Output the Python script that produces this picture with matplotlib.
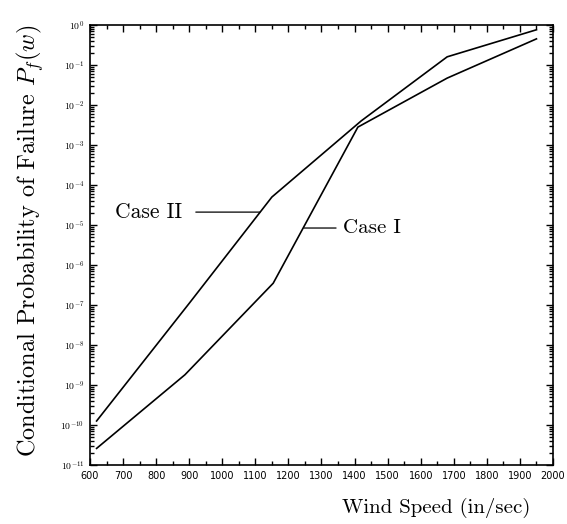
# -*- coding: utf-8 -*-
"""
Conditional probability of failure vs wind speed
"""

import matplotlib
matplotlib.use("Agg")
import matplotlib.pyplot as plt
import numpy as np
from matplotlib.ticker import LogLocator, FixedLocator, NullFormatter

matplotlib.rcParams['mathtext.fontset'] = 'cm'
matplotlib.rcParams['axes.unicode_minus'] = False

# data
speed_case2 = [620, 900, 1150, 1420, 1680, 1950]
pf_case2 = [1.26e-10, 1.1e-7, 5.0e-5, 4.0e-3, 1.6e-1, 7.6e-1]

speed_case1 = [620, 887, 1154, 1410, 1680, 1950]
pf_case1 = [2.6e-11, 1.8e-9, 3.5e-7, 2.8e-3, 4.7e-2, 4.5e-1]

xticks = list(range(600, 2001, 100))
yexps = list(range(0, -12, -1))

fig = plt.figure(figsize=(5.67, 5.24), dpi=100)
ax = fig.add_axes([0.1587, 0.1126, 0.8166, 0.8397])

ax.plot(speed_case2, pf_case2, 'k-', lw=1.2)
ax.plot(speed_case1, pf_case1, 'k-', lw=1.2)

ax.set_yscale('log')
ax.set_xlim(600, 2000)
ax.set_ylim(1e-11, 1)

ax.xaxis.set_major_locator(FixedLocator(xticks))
ax.xaxis.set_minor_locator(FixedLocator([x + 50 for x in xticks[:-1]]))
ax.set_xticklabels([str(x) for x in xticks])

ax.yaxis.set_major_locator(FixedLocator([10.0**e for e in yexps]))
ax.set_yticklabels([r'$10^{%d}$' % e for e in yexps])
ax.yaxis.set_minor_locator(LogLocator(base=10, subs=np.arange(2, 10), numticks=20))
ax.yaxis.set_minor_formatter(NullFormatter())

ax.tick_params(which='both', direction='in', top=True, right=True,
               labelsize=7, width=1.0)
ax.tick_params(which='major', length=5, pad=4)
ax.tick_params(which='minor', length=3)
for s in ax.spines.values():
    s.set_linewidth(1.2)

# labels on the curves
ax.annotate('Case II', xy=(1114, 2.1e-5), xytext=(878, 2.1e-5),
            fontfamily='cmr10', fontsize=15.5, ha='right', va='center',
            arrowprops=dict(arrowstyle='-', lw=0.9, color='k',
                            shrinkA=8, shrinkB=0))
ax.annotate('Case I', xy=(1247, 8.4e-6), xytext=(1365, 8.4e-6),
            fontfamily='cmr10', fontsize=15, ha='left', va='center',
            arrowprops=dict(arrowstyle='-', lw=0.9, color='k',
                            shrinkA=3, shrinkB=0))

fig.text(0.77, 0.031, 'Wind Speed (in/sec)', fontfamily='cmr10',
         fontsize=15, ha='center', va='center')
fig.text(0.053, 0.54, r'Conditional Probability of Failure $P_f(w)$',
         fontfamily='cmr10', fontsize=17.5, rotation=90,
         ha='center', va='center')

fig.savefig('out.png', dpi=100)
